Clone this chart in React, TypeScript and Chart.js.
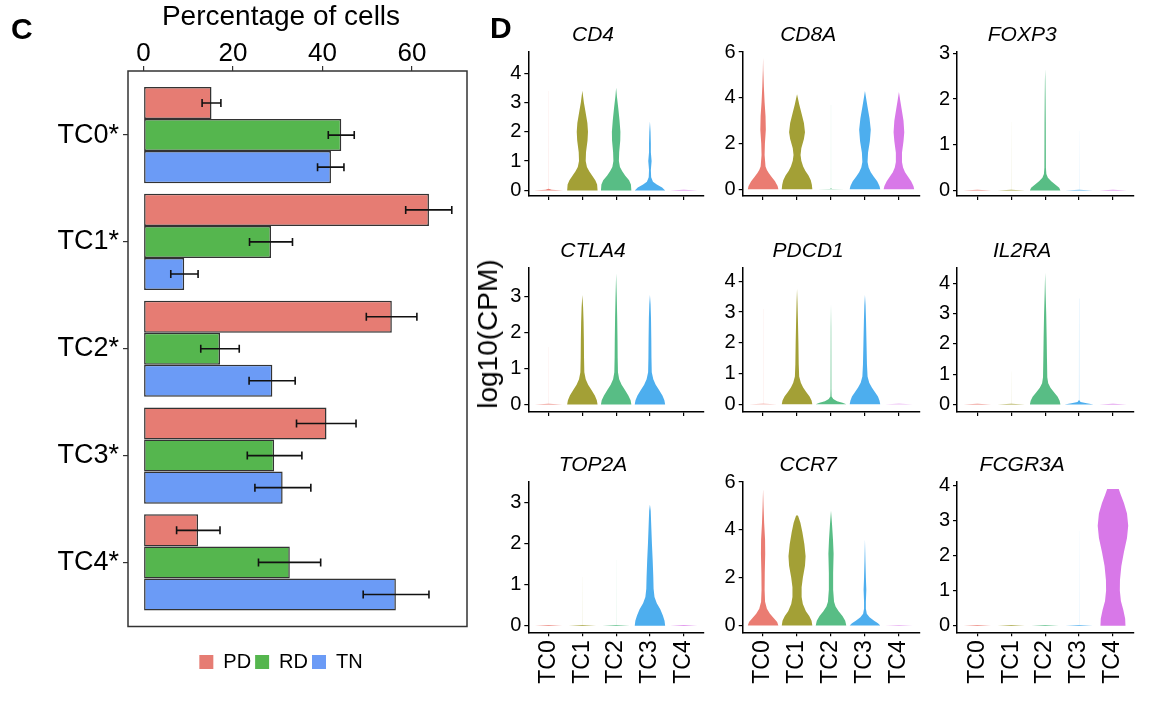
import React, { useEffect, useRef } from "react";
import { Chart, registerables } from "chart.js";

Chart.register(...registerables);

const FONT = "'Liberation Sans', Arial, Helvetica, sans-serif";
Chart.defaults.font.family = FONT;

// ---------------- Panel C data ----------------
const CELL_TYPES = ["TC0*", "TC1*", "TC2*", "TC3*", "TC4*"];
const RESPONSE_GROUPS = ["PD", "RD", "TN"];
const GROUP_COLORS = ["#E67C73", "#55B64E", "#6B9BF6"];
const PD_PCT = [15.2, 63.8, 55.5, 40.9, 12.2];
const RD_PCT = [44.2, 28.5, 17.1, 29.2, 32.7];
const TN_PCT = [41.9, 9.1, 28.8, 31.1, 56.4];
const PD_ERR_LOW = [13.1, 58.6, 49.8, 34.2, 7.4];
const PD_ERR_HIGH = [17.3, 68.9, 61.1, 47.5, 17.1];
const RD_ERR_LOW = [41.3, 23.7, 12.8, 23.2, 25.7];
const RD_ERR_HIGH = [47.1, 33.3, 21.4, 35.4, 39.6];
const TN_ERR_LOW = [38.9, 6.1, 23.6, 24.9, 49.1];
const TN_ERR_HIGH = [44.8, 12.2, 33.9, 37.4, 63.8];
const PCT_TICKS = [0, 20, 40, 60];

// ---------------- Panel D data ----------------
const CLUSTERS = ["TC0", "TC1", "TC2", "TC3", "TC4"];
const CLUSTER_COLORS = ["#EA7C72", "#A3A036", "#58BD85", "#4DAEEE", "#D878E8"];
const GENES = ["CD4", "CD8A", "FOXP3", "CTLA4", "PDCD1", "IL2RA", "TOP2A", "CCR7", "FCGR3A"];
const GENE_Y_MIN = [-0.19, -0.29, -0.12, -0.21, -0.25, -0.25, -0.16, -0.28, -0.19];
const GENE_Y_MAX = [4.72, 6.0, 3.03, 3.81, 4.44, 4.52, 3.5, 6.0, 4.1];
const GENE_Y_TICKS = [
  [0, 1, 2, 3, 4],
  [0, 2, 4, 6],
  [0, 1, 2, 3],
  [0, 1, 2, 3],
  [0, 1, 2, 3, 4],
  [0, 1, 2, 3, 4],
  [0, 1, 2, 3],
  [0, 2, 4, 6],
  [0, 1, 2, 3, 4],
];

// violin profiles: [log10(CPM), relative half-width] from bottom to top, one per cluster
const CD4_VIOLINS = [
  [[0, 0.95], [0.02, 0.2], [0.06, 0.004], [3.4, 0.002]],
  [[0, 1], [0.2, 0.97], [0.35, 0.85], [0.5, 0.65], [0.65, 0.45], [0.8, 0.3], [1.0, 0.22], [1.3, 0.24], [1.7, 0.34], [2.0, 0.37], [2.3, 0.33], [2.7, 0.2], [3.0, 0.1], [3.4, 0]],
  [[0, 1], [0.2, 0.97], [0.35, 0.85], [0.5, 0.6], [0.65, 0.4], [0.8, 0.25], [1.0, 0.18], [1.3, 0.2], [1.7, 0.27], [2.0, 0.28], [2.4, 0.22], [2.8, 0.14], [3.2, 0.05], [3.5, 0]],
  [[0, 1], [0.1, 0.8], [0.2, 0.45], [0.3, 0.2], [0.45, 0.08], [0.7, 0.06], [1.0, 0.11], [1.3, 0.06], [1.6, 0.06], [2.0, 0.04], [2.35, 0]],
  [[0, 0.9], [0.02, 0]],
];
const CD8A_VIOLINS = [
  [[0, 1], [0.15, 0.95], [0.35, 0.78], [0.55, 0.55], [0.7, 0.38], [0.85, 0.25], [1.0, 0.16], [1.5, 0.1], [2.0, 0.12], [2.6, 0.18], [3.2, 0.16], [3.8, 0.1], [4.5, 0.05], [5.2, 0.015], [5.75, 0]],
  [[0, 1], [0.2, 0.97], [0.4, 0.9], [0.6, 0.75], [0.8, 0.55], [1.0, 0.4], [1.25, 0.28], [1.5, 0.23], [1.8, 0.28], [2.2, 0.45], [2.5, 0.52], [2.9, 0.45], [3.3, 0.3], [3.7, 0.15], [4.15, 0]],
  [[0, 0.9], [0.02, 0.05], [0.06, 0.003], [3.7, 0.002]],
  [[0, 1], [0.15, 0.95], [0.35, 0.8], [0.55, 0.58], [0.75, 0.38], [0.95, 0.24], [1.2, 0.17], [1.6, 0.2], [2.1, 0.32], [2.6, 0.38], [3.1, 0.3], [3.6, 0.17], [4.0, 0.07], [4.3, 0]],
  [[0, 1], [0.15, 0.95], [0.35, 0.8], [0.55, 0.6], [0.75, 0.4], [0.95, 0.27], [1.2, 0.2], [1.6, 0.2], [2.1, 0.3], [2.5, 0.35], [3.0, 0.3], [3.5, 0.18], [3.9, 0.08], [4.25, 0]],
];
const FOXP3_VIOLINS = [
  [[0, 0.9], [0.015, 0]],
  [[0, 0.9], [0.015, 0.003], [1.5, 0.001]],
  [[0, 1], [0.06, 0.92], [0.12, 0.7], [0.2, 0.4], [0.28, 0.18], [0.36, 0.08], [0.5, 0.05], [1.0, 0.045], [1.5, 0.04], [2.0, 0.028], [2.4, 0.015], [2.65, 0]],
  [[0, 0.9], [0.015, 0.003], [1.3, 0.001]],
  [[0, 0.9], [0.015, 0]],
];
const CTLA4_VIOLINS = [
  [[0, 0.9], [0.02, 0.003], [1.6, 0.002]],
  [[0, 1], [0.12, 0.95], [0.25, 0.82], [0.4, 0.6], [0.55, 0.38], [0.7, 0.22], [0.9, 0.13], [1.3, 0.11], [1.8, 0.1], [2.3, 0.08], [2.7, 0.05], [3.05, 0]],
  [[0, 1], [0.12, 0.95], [0.25, 0.8], [0.4, 0.58], [0.55, 0.36], [0.7, 0.2], [0.9, 0.12], [1.3, 0.1], [1.8, 0.09], [2.4, 0.07], [3.0, 0.04], [3.65, 0]],
  [[0, 1], [0.12, 0.95], [0.25, 0.82], [0.4, 0.6], [0.55, 0.38], [0.7, 0.22], [0.9, 0.12], [1.3, 0.1], [1.8, 0.09], [2.4, 0.07], [2.8, 0.04], [3.05, 0]],
  [],
];
const PDCD1_VIOLINS = [
  [[0, 0.9], [0.02, 0.003], [3.1, 0.002]],
  [[0, 1], [0.12, 0.95], [0.25, 0.82], [0.4, 0.6], [0.55, 0.4], [0.7, 0.25], [0.9, 0.14], [1.3, 0.11], [2.0, 0.09], [2.7, 0.06], [3.3, 0.03], [3.75, 0]],
  [[0, 1], [0.05, 0.75], [0.1, 0.4], [0.17, 0.15], [0.25, 0.04], [0.5, 0.025], [1.5, 0.02], [2.5, 0.015], [3.25, 0]],
  [[0, 1], [0.12, 0.95], [0.25, 0.85], [0.4, 0.65], [0.55, 0.45], [0.7, 0.28], [0.9, 0.17], [1.3, 0.13], [2.0, 0.1], [2.7, 0.07], [3.2, 0.04], [3.55, 0]],
  [[0, 0.9], [0.02, 0]],
];
const IL2RA_VIOLINS = [
  [[0, 0.9], [0.02, 0]],
  [[0, 0.9], [0.02, 0.003], [1.1, 0.001]],
  [[0, 1], [0.12, 0.95], [0.25, 0.82], [0.4, 0.58], [0.55, 0.35], [0.7, 0.2], [0.9, 0.14], [1.5, 0.12], [2.2, 0.1], [3.0, 0.07], [3.7, 0.03], [4.35, 0]],
  [[0, 0.95], [0.04, 0.5], [0.08, 0.1], [0.15, 0.006], [3.5, 0.003]],
  [[0, 0.9], [0.02, 0]],
];
const TOP2A_VIOLINS = [
  [[0, 0.9], [0.02, 0]],
  [[0, 0.9], [0.02, 0.003], [1.2, 0.001]],
  [[0, 0.9], [0.02, 0.003], [1.6, 0.001]],
  [[0, 1], [0.12, 0.96], [0.25, 0.85], [0.4, 0.68], [0.55, 0.45], [0.7, 0.3], [0.9, 0.24], [1.2, 0.22], [1.6, 0.18], [2.0, 0.13], [2.4, 0.09], [2.8, 0.05], [2.95, 0]],
  [[0, 0.9], [0.02, 0]],
];
const CCR7_VIOLINS = [
  [[0, 1], [0.15, 0.92], [0.3, 0.72], [0.5, 0.45], [0.7, 0.25], [1.0, 0.13], [1.5, 0.1], [2.2, 0.11], [3.0, 0.14], [3.6, 0.13], [4.3, 0.07], [5.0, 0.03], [5.7, 0]],
  [[0, 1], [0.2, 0.95], [0.4, 0.8], [0.6, 0.58], [0.9, 0.38], [1.2, 0.3], [1.6, 0.3], [2.0, 0.38], [2.5, 0.52], [2.9, 0.56], [3.4, 0.48], [3.9, 0.35], [4.3, 0.22], [4.6, 0.06]],
  [[0, 1], [0.2, 0.93], [0.4, 0.75], [0.6, 0.5], [0.8, 0.3], [1.0, 0.2], [1.5, 0.14], [2.2, 0.14], [3.0, 0.17], [3.6, 0.13], [4.2, 0.07], [4.8, 0]],
  [[0, 1], [0.1, 0.85], [0.2, 0.6], [0.35, 0.3], [0.5, 0.12], [0.7, 0.06], [1.0, 0.06], [1.5, 0.09], [2.0, 0.06], [2.7, 0.03], [3.6, 0]],
  [[0, 0.9], [0.02, 0]],
];
const FCGR3A_VIOLINS = [
  [[0, 0.9], [0.02, 0]],
  [[0, 0.9], [0.02, 0]],
  [[0, 0.9], [0.02, 0]],
  [[0, 0.9], [0.02, 0.003], [2.7, 0.001]],
  [[0, 0.82], [0.2, 0.8], [0.45, 0.68], [0.7, 0.52], [1.0, 0.45], [1.3, 0.46], [1.7, 0.55], [2.1, 0.72], [2.5, 0.92], [2.85, 1.0], [3.2, 0.92], [3.5, 0.72], [3.75, 0.5], [3.9, 0.38]],
];
const GENE_VIOLINS = [
  CD4_VIOLINS, CD8A_VIOLINS, FOXP3_VIOLINS,
  CTLA4_VIOLINS, PDCD1_VIOLINS, IL2RA_VIOLINS,
  TOP2A_VIOLINS, CCR7_VIOLINS, FCGR3A_VIOLINS,
];

// ---------------- layout (pixels) ----------------
const PANEL_COLS = [[528.3, 704], [742.7, 919.3], [957, 1133.3]];
const PANEL_ROWS = [[52, 202.5], [267.7, 419], [482, 632.3]];
const TITLE_CX = [626, 841, 1057];
const TITLE_CY = [36, 252, 466];

// ---------------- plugins ----------------
const errorBarPlugin = {
  id: "errorBars",
  afterDatasetsDraw(chart: any) {
    const ctx = chart.ctx;
    const xs = chart.scales.x;
    ctx.save();
    ctx.strokeStyle = "#111";
    ctx.lineWidth = 1.6;
    chart.data.datasets.forEach((ds: any, k: number) => {
      const meta = chart.getDatasetMeta(k);
      meta.data.forEach((bar: any, i: number) => {
        const lo = xs.getPixelForValue(ds.errLow[i]);
        const hi = xs.getPixelForValue(ds.errHigh[i]);
        const y = bar.y;
        ctx.beginPath();
        ctx.moveTo(lo, y);
        ctx.lineTo(hi, y);
        ctx.moveTo(lo, y - 4);
        ctx.lineTo(lo, y + 4);
        ctx.moveTo(hi, y - 4);
        ctx.lineTo(hi, y + 4);
        ctx.stroke();
      });
    });
    ctx.restore();
  },
};

const framePlugin = {
  id: "frame",
  afterDraw(chart: any) {
    const { ctx, chartArea: a } = chart;
    ctx.save();
    ctx.strokeStyle = "#333";
    ctx.lineWidth = 1.5;
    ctx.strokeRect(a.left, a.top, a.right - a.left, a.bottom - a.top);
    ctx.restore();
  },
};

const violinPlugin = {
  id: "violins",
  afterDatasetsDraw(chart: any) {
    const { ctx } = chart;
    const xs = chart.scales.x;
    const ys = chart.scales.y;
    ctx.save();
    chart.data.datasets.forEach((ds: any, i: number) => {
      const prof: number[][] = ds.violin;
      if (!prof || prof.length < 2) return;
      const left = prof.map(([v, w]) => [xs.getPixelForValue(i - w * 0.45), ys.getPixelForValue(v)]);
      const right = prof.map(([v, w]) => [xs.getPixelForValue(i + w * 0.45), ys.getPixelForValue(v)]).reverse();
      ctx.beginPath();
      left.concat(right).forEach(([px, py], j) => {
        if (j === 0) ctx.moveTo(px, py);
        else ctx.lineTo(px, py);
      });
      ctx.closePath();
      ctx.fillStyle = ds.backgroundColor;
      ctx.fill();
    });
    ctx.restore();
  },
};

// ---------------- chart configs ----------------
function makeBarConfig(width: number) {
  const values = [PD_PCT, RD_PCT, TN_PCT];
  const lows = [PD_ERR_LOW, RD_ERR_LOW, TN_ERR_LOW];
  const highs = [PD_ERR_HIGH, RD_ERR_HIGH, TN_ERR_HIGH];
  const tickGrid = { display: true, offset: false, drawOnChartArea: false, drawTicks: true, tickLength: 5, color: "#333", lineWidth: 1.2 };
  const spacer = (size: number, horizontal: boolean, position: string) => ({
    type: "linear",
    position,
    display: true,
    grid: { display: false },
    ticks: { display: false },
    border: { display: false },
    afterFit: (s: any) => {
      if (horizontal) s.height = size;
      else s.width = size;
    },
  });
  return {
    type: "bar",
    data: {
      datasets: RESPONSE_GROUPS.map((g, k) => ({
        label: g,
        data: values[k].map((v, i) => ({ x: v, y: i })),
        xAxisID: "x",
        yAxisID: "y",
        backgroundColor: GROUP_COLORS[k],
        borderColor: "#333",
        borderWidth: 1.5,
        borderSkipped: false,
        categoryPercentage: 0.9,
        barPercentage: 1.0,
        errLow: lows[k],
        errHigh: highs[k],
      })),
    },
    options: {
      indexAxis: "y",
      responsive: false,
      animation: false,
      events: [],
      layout: { padding: { left: 0, right: 0, top: 0, bottom: 24 } },
      plugins: {
        title: {
          display: true,
          text: "Percentage of cells",
          font: { size: 28, weight: "normal", family: FONT },
          color: "#000",
          padding: { top: 0.5, bottom: 0 },
        },
        legend: {
          display: true,
          position: "bottom",
          labels: {
            boxWidth: 14,
            boxHeight: 14,
            padding: 4,
            color: "#000",
            font: { size: 20, family: FONT },
            generateLabels: (chart: any) =>
              Chart.defaults.plugins.legend.labels
                .generateLabels(chart)
                .map((l: any) => ({ ...l, lineWidth: 0, strokeStyle: "rgba(0,0,0,0)" })),
          },
        },
        tooltip: { enabled: false },
      },
      scales: {
        x: {
          type: "linear",
          position: "top",
          offset: false,
          min: -3.46,
          max: 72.3,
          afterBuildTicks: (s: any) => {
            s.ticks = PCT_TICKS.map((v) => ({ value: v }));
          },
          afterFit: (s: any) => {
            s.height = 36.9;
          },
          ticks: { font: { size: 26, family: FONT }, color: "#000", padding: -3, maxRotation: 0, autoSkip: false },
          grid: tickGrid,
          border: { display: false },
        },
        y: {
          type: "linear",
          position: "left",
          offset: false,
          reverse: true,
          min: -0.6,
          max: 4.6,
          afterBuildTicks: (s: any) => {
            s.ticks = CELL_TYPES.map((_, i) => ({ value: i }));
          },
          afterFit: (s: any) => {
            s.width = 128;
          },
          ticks: {
            font: { size: 27, family: FONT },
            color: "#000",
            padding: 4,
            callback: (v: number) => CELL_TYPES[v],
          },
          grid: tickGrid,
          border: { display: false },
        },
        xb: spacer(21.5, true, "bottom"),
        yr: spacer(width - 467, false, "right"),
      },
    },
    plugins: [errorBarPlugin, framePlugin],
  };
}

function violinGeometry(g: number) {
  const r = Math.floor(g / 3);
  const c = g % 3;
  const [L, R] = PANEL_COLS[c];
  const [T, B] = PANEL_ROWS[r];
  const fs = 21;
  const left = Math.round(L - 46);
  const yW = L - left;
  const top = Math.round(TITLE_CY[r] - 0.6 * fs);
  const padB = T - top - 1.2 * fs;
  const width = Math.round(2 * (TITLE_CX[c] - left));
  const padR = left + width - R;
  const showX = r === 2;
  const height = Math.round(B - top + (showX ? 64 : 8));
  const xH = top + height - B;
  return { left, top, width, height, yW, padB, padR, showX, xH };
}

function makeViolinConfig(g: number) {
  const geo = violinGeometry(g);
  const axisGrid = { display: true, offset: false, drawOnChartArea: false, drawTicks: true, tickLength: 4, color: "#000", lineWidth: 1.2 };
  const axisBorder = { display: true, color: "#000", width: 1.5 };
  return {
    type: "scatter",
    data: {
      datasets: CLUSTERS.map((cl, i) => ({
        label: cl,
        data: [],
        backgroundColor: CLUSTER_COLORS[i],
        violin: GENE_VIOLINS[g][i],
      })),
    },
    options: {
      responsive: false,
      animation: false,
      events: [],
      layout: { padding: { left: 0, right: geo.padR, top: 0, bottom: 0 } },
      plugins: {
        legend: { display: false },
        tooltip: { enabled: false },
        title: {
          display: true,
          text: GENES[g],
          color: "#000",
          font: { size: 21, style: "italic", weight: "normal", family: FONT },
          padding: { top: 0, bottom: geo.padB },
        },
      },
      scales: {
        x: {
          type: "linear",
          offset: false,
          min: -0.6,
          max: 4.6,
          afterBuildTicks: (s: any) => {
            s.ticks = CLUSTERS.map((_, i) => ({ value: i }));
          },
          afterFit: (s: any) => {
            s.height = geo.xH;
          },
          ticks: {
            display: geo.showX,
            autoSkip: false,
            minRotation: 90,
            maxRotation: 90,
            padding: 4,
            color: "#000",
            font: { size: 23, family: FONT },
            callback: (v: number) => CLUSTERS[v],
          },
          grid: axisGrid,
          border: axisBorder,
        },
        y: {
          type: "linear",
          offset: false,
          min: GENE_Y_MIN[g],
          max: GENE_Y_MAX[g],
          afterBuildTicks: (s: any) => {
            s.ticks = GENE_Y_TICKS[g].map((v) => ({ value: v }));
          },
          afterFit: (s: any) => {
            s.width = geo.yW;
          },
          ticks: { padding: 3, color: "#000", font: { size: 20, family: FONT } },
          grid: axisGrid,
          border: axisBorder,
        },
      },
    },
    plugins: [violinPlugin],
  };
}

// ---------------- components ----------------
function ChartCanvas(props: { left: number; top: number; width: number; height: number; make: () => any }) {
  const ref = useRef<HTMLCanvasElement>(null);
  useEffect(() => {
    const chart = new Chart(ref.current as HTMLCanvasElement, props.make());
    return () => chart.destroy();
  }, []);
  return (
    <canvas
      ref={ref}
      width={props.width}
      height={props.height}
      style={{ position: "absolute", left: props.left, top: props.top, width: props.width, height: props.height }}
    />
  );
}

const panelLabel: React.CSSProperties = {
  position: "absolute",
  fontFamily: FONT,
  fontWeight: "bold",
  fontSize: 30,
  lineHeight: "30px",
  color: "#000",
};

export default function App() {
  const barWidth = 562;
  return (
    <div
      style={{
        position: "absolute",
        left: 0,
        top: 0,
        width: 1166,
        height: 706,
        overflow: "hidden",
        background: "#fff",
        fontFamily: FONT,
      }}
    >
      <ChartCanvas left={0} top={0} width={barWidth} height={706} make={() => makeBarConfig(barWidth)} />
      {GENES.map((gene, g) => {
        const geo = violinGeometry(g);
        return (
          <ChartCanvas
            key={gene}
            left={geo.left}
            top={geo.top}
            width={geo.width}
            height={geo.height}
            make={() => makeViolinConfig(g)}
          />
        );
      })}
      <div style={{ ...panelLabel, left: 11, top: 14 }}>C</div>
      <div style={{ ...panelLabel, left: 490, top: 13 }}>D</div>
      <div
        style={{
          position: "absolute",
          left: 488,
          top: 334,
          transform: "translate(-50%, -50%) rotate(-90deg)",
          fontFamily: FONT,
          fontSize: 28,
          lineHeight: "28px",
          whiteSpace: "nowrap",
          color: "#000",
        }}
      >
        log10(CPM)
      </div>
    </div>
  );
}
